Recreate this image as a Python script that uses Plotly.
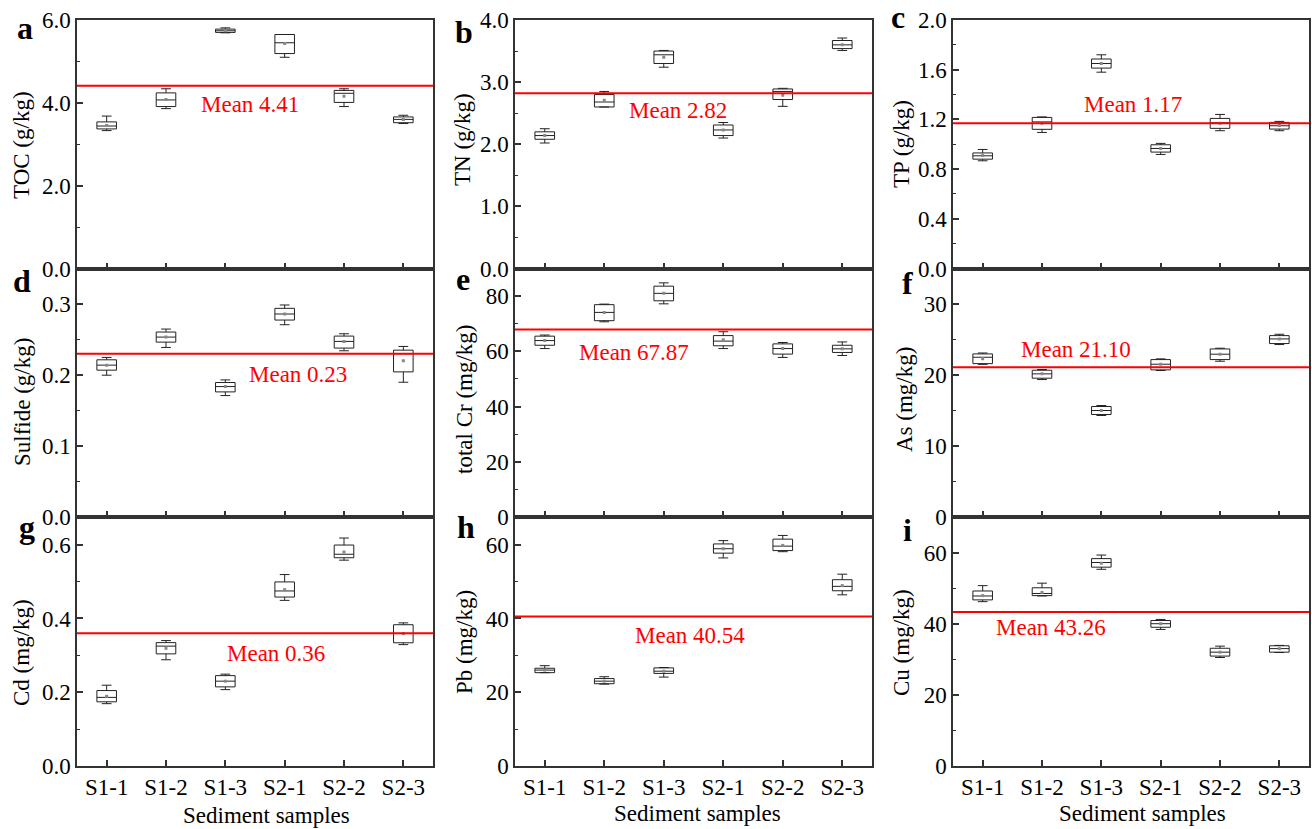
import plotly.graph_objects as go
from plotly.subplots import make_subplots

categories = ["S1-1", "S1-2", "S1-3", "S2-1", "S2-2", "S2-3"]

# ---- a: TOC (g/kg)
toc_upper = [3.68, 4.34, 5.81, 5.65, 4.34, 3.70]
toc_q3 = [3.54, 4.24, 5.78, 5.65, 4.30, 3.66]
toc_median = [3.44, 4.07, 5.74, 5.45, 4.23, 3.60]
toc_q1 = [3.37, 3.91, 5.70, 5.19, 4.01, 3.52]
toc_lower = [3.33, 3.86, 5.69, 5.10, 3.91, 3.50]
toc_mean = [3.45, 4.08, 5.74, 5.43, 4.16, 3.60]

# ---- b: TN (g/kg)
tn_upper = [2.25, 2.85, 3.51, 2.35, 2.90, 3.71]
tn_q3 = [2.20, 2.80, 3.50, 2.31, 2.89, 3.67]
tn_median = [2.14, 2.68, 3.44, 2.23, 2.85, 3.60]
tn_q1 = [2.08, 2.60, 3.30, 2.14, 2.72, 3.54]
tn_lower = [2.02, 2.60, 3.24, 2.10, 2.61, 3.51]
tn_mean = [2.14, 2.71, 3.40, 2.23, 2.79, 3.60]

# ---- c: TP (g/kg)
tp_upper = [0.958, 1.220, 1.720, 1.007, 1.240, 1.184]
tp_q3 = [0.930, 1.216, 1.686, 0.996, 1.208, 1.176]
tp_median = [0.907, 1.180, 1.650, 0.966, 1.173, 1.149]
tp_q1 = [0.880, 1.120, 1.613, 0.937, 1.128, 1.122]
tp_lower = [0.867, 1.095, 1.580, 0.918, 1.109, 1.109]
tp_mean = [0.910, 1.170, 1.650, 0.966, 1.170, 1.150]

# ---- d: Sulfide (g/kg)
sulfide_upper = [0.2247, 0.2647, 0.1931, 0.2986, 0.2581, 0.2402]
sulfide_q3 = [0.2214, 0.2605, 0.1894, 0.2939, 0.2548, 0.2350]
sulfide_median = [0.2139, 0.2534, 0.1837, 0.2859, 0.2473, 0.2299]
sulfide_q1 = [0.2068, 0.2463, 0.1762, 0.2774, 0.2379, 0.2044]
sulfide_lower = [0.1997, 0.2388, 0.1710, 0.2708, 0.2341, 0.1898]
sulfide_mean = [0.2139, 0.2534, 0.1837, 0.2859, 0.2473, 0.2200]

# ---- e: total Cr (mg/kg)
cr_upper = [65.9, 77.1, 84.8, 67.1, 63.2, 63.4]
cr_q3 = [65.5, 76.9, 83.6, 65.7, 62.7, 62.2]
cr_median = [63.9, 74.1, 81.0, 63.7, 61.0, 60.9]
cr_q1 = [62.2, 71.1, 78.3, 62.0, 59.0, 59.6]
cr_lower = [61.0, 70.7, 77.2, 61.0, 57.8, 58.5]
cr_mean = [63.9, 74.1, 81.0, 64.2, 61.0, 60.9]

# ---- f: As (mg/kg)
as_upper = [23.10, 20.77, 15.70, 22.27, 23.77, 25.74]
as_q3 = [22.97, 20.67, 15.56, 22.17, 23.67, 25.55]
as_median = [22.50, 20.16, 15.00, 21.52, 22.93, 25.08]
as_q1 = [21.60, 19.55, 14.44, 20.72, 22.17, 24.43]
as_lower = [21.50, 19.36, 14.30, 20.63, 21.94, 24.29]
as_mean = [22.30, 20.16, 15.00, 21.52, 22.93, 25.08]

# ---- g: Cd (mg/kg)
cd_upper = [0.219, 0.340, 0.249, 0.519, 0.618, 0.388]
cd_q3 = [0.2045, 0.3345, 0.245, 0.499, 0.599, 0.383]
cd_median = [0.186, 0.325, 0.230, 0.4745, 0.574, 0.359]
cd_q1 = [0.174, 0.304, 0.2145, 0.458, 0.5645, 0.334]
cd_lower = [0.169, 0.288, 0.207, 0.449, 0.558, 0.329]
cd_mean = [0.189, 0.319, 0.230, 0.478, 0.580, 0.359]

# ---- h: Pb (mg/kg)
pb_upper = [27.2, 24.2, 26.7, 61.1, 62.5, 52.0]
pb_q3 = [26.5, 23.7, 26.6, 60.2, 61.5, 50.5]
pb_median = [26.0, 23.0, 25.7, 58.9, 59.6, 48.7]
pb_q1 = [25.3, 22.3, 25.1, 57.7, 58.4, 47.5]
pb_lower = [25.3, 22.2, 24.1, 56.4, 58.1, 46.4]
pb_mean = [26.0, 23.0, 25.7, 58.9, 59.8, 48.9]

# ---- i: Cu (mg/kg)
cu_upper = [50.7, 51.4, 59.3, 41.2, 33.7, 33.9]
cu_q3 = [49.2, 50.1, 58.3, 40.9, 33.1, 33.8]
cu_median = [47.8, 48.5, 57.2, 40.0, 32.0, 33.0]
cu_q1 = [46.7, 47.9, 55.9, 39.0, 30.9, 32.0]
cu_lower = [46.2, 47.8, 55.3, 38.4, 30.5, 31.9]
cu_mean = [47.9, 48.8, 57.0, 40.0, 32.0, 33.0]

panel_letters = ["a", "b", "c", "d", "e", "f", "g", "h", "i"]
y_titles = ["TOC (g/kg)", "TN (g/kg)", "TP (g/kg)",
            "Sulfide (g/kg)", "total Cr (mg/kg)", "As (mg/kg)",
            "Cd (mg/kg)", "Pb (mg/kg)", "Cu (mg/kg)"]
overall_means = [4.41, 2.82, 1.17, 0.23, 67.87, 21.10, 0.36, 40.54, 43.26]
mean_labels = ["Mean 4.41", "Mean 2.82", "Mean 1.17", "Mean 0.23", "Mean 67.87",
               "Mean 21.10", "Mean 0.36", "Mean 40.54", "Mean 43.26"]
# label positions (category index, y value)
mean_label_x = [2.42, 2.24, 2.54, 3.22, 1.50, 1.58, 2.86, 2.44, 1.16]
mean_label_y = [3.97, 2.55, 1.32, 0.200, 59.6, 23.6, 0.306, 35.5, 38.8]
y_ranges = [[0, 6], [0, 4], [0, 2], [0, 0.35], [0, 90], [0, 35], [0, 0.675], [0, 67.5], [0, 70]]
y_dticks = [2, 1, 0.4, 0.1, 20, 10, 0.2, 20, 20]
y_formats = [".1f", ".1f", ".1f", ".1f", "d", "d", ".1f", "d", "d"]

panels = [
    (toc_upper, toc_q3, toc_median, toc_q1, toc_lower, toc_mean),
    (tn_upper, tn_q3, tn_median, tn_q1, tn_lower, tn_mean),
    (tp_upper, tp_q3, tp_median, tp_q1, tp_lower, tp_mean),
    (sulfide_upper, sulfide_q3, sulfide_median, sulfide_q1, sulfide_lower, sulfide_mean),
    (cr_upper, cr_q3, cr_median, cr_q1, cr_lower, cr_mean),
    (as_upper, as_q3, as_median, as_q1, as_lower, as_mean),
    (cd_upper, cd_q3, cd_median, cd_q1, cd_lower, cd_mean),
    (pb_upper, pb_q3, pb_median, pb_q1, pb_lower, pb_mean),
    (cu_upper, cu_q3, cu_median, cu_q1, cu_lower, cu_mean),
]

W, H = 1312, 829
FONT = "Liberation Serif, Times New Roman, serif"
AX = "#333333"

x_dom = [[77 / W, 433 / W], [515 / W, 872 / W], [953 / W, 1309 / W]]
y_px = [(20, 268.5), (268.5, 517), (517, 766)]
y_dom = [[1 - b / H, 1 - t / H] for t, b in y_px]

# layout-only pixel positions for text
letter_pos = [(25, 28), (464, 32), (898, 17), (22, 281), (463, 279), (908, 283),
              (27, 527), (466, 527), (907, 530)]
ytitle_pos = [(22, 145), (462, 140), (901, 144), (22, 402), (465, 400), (904, 399),
              (21, 653), (464, 642), (901, 643)]
xtitle_pos = [(266, 815), (697, 813), (1142, 813)]

fig = make_subplots(rows=3, cols=3)

for k, (up, q3, med, q1, lo, mn) in enumerate(panels):
    r, c = k // 3 + 1, k % 3 + 1
    fig.add_trace(go.Box(
        x=categories, q1=q1, median=med, q3=q3, lowerfence=lo, upperfence=up,
        width=0.33, whiskerwidth=0.5, fillcolor="rgba(255,255,255,0)",
        line=dict(color="#222222", width=1), boxpoints=False, showlegend=False,
    ), row=r, col=c)
    fig.add_trace(go.Scatter(
        x=categories, y=mn, mode="markers",
        marker=dict(symbol="square", size=3, color="#888888"),
        showlegend=False, hoverinfo="skip",
    ), row=r, col=c)
    fig.add_hline(y=overall_means[k], line=dict(color="#ff0000", width=2), row=r, col=c)

    ax_suffix = "" if k == 0 else str(k + 1)
    fig.add_annotation(
        x=mean_label_x[k], y=mean_label_y[k], xref="x" + ax_suffix, yref="y" + ax_suffix,
        text=mean_labels[k], showarrow=False, font=dict(family=FONT, size=23, color="#ff0000"),
        xanchor="center", yanchor="middle",
    )
    lx, ly = letter_pos[k]
    fig.add_annotation(
        x=lx / W, y=1 - ly / H, xref="paper", yref="paper", text="<b>%s</b>" % panel_letters[k],
        showarrow=False, font=dict(family=FONT, size=32, color="black"),
        xanchor="center", yanchor="middle",
    )
    tx, ty = ytitle_pos[k]
    fig.add_annotation(
        x=tx / W, y=1 - ty / H, xref="paper", yref="paper", text=y_titles[k],
        showarrow=False, textangle=-90, font=dict(family=FONT, size=23, color="black"),
        xanchor="center", yanchor="middle",
    )

    fig.update_xaxes(
        domain=x_dom[c - 1], range=[-0.5, 5.5], type="category",
        showline=True, mirror=True, linecolor=AX, linewidth=1.5,
        ticks="inside", ticklen=6, tickwidth=1.5, tickcolor=AX,
        showticklabels=(r == 3), showgrid=False, zeroline=False,
        tickfont=dict(family=FONT, size=23, color="black"),
        automargin=False,
        row=r, col=c,
    )
    fig.update_yaxes(
        domain=y_dom[r - 1], range=y_ranges[k], dtick=y_dticks[k], tick0=0,
        tickformat=y_formats[k],
        showline=True, mirror=True, linecolor=AX, linewidth=1.5,
        ticks="inside", ticklen=6, tickwidth=1.5, tickcolor=AX,
        minor=dict(ticks="inside", ticklen=3, tickwidth=1.2, tickcolor=AX,
                   dtick=y_dticks[k] / 2, tick0=0),
        showgrid=False, zeroline=False,
        tickfont=dict(family=FONT, size=23, color="black"),
        automargin=False,
        row=r, col=c,
    )

for cx, cy in xtitle_pos:
    fig.add_annotation(
        x=cx / W, y=1 - cy / H, xref="paper", yref="paper", text="Sediment samples",
        showarrow=False, font=dict(family=FONT, size=23, color="black"),
        xanchor="center", yanchor="middle",
    )

fig.update_layout(
    width=W, height=H, margin=dict(l=0, r=0, t=0, b=0, pad=0, autoexpand=False),
    paper_bgcolor="white", plot_bgcolor="white",
    font=dict(family=FONT, color="black"),
    showlegend=False,
)

fig.write_html("out.html")
